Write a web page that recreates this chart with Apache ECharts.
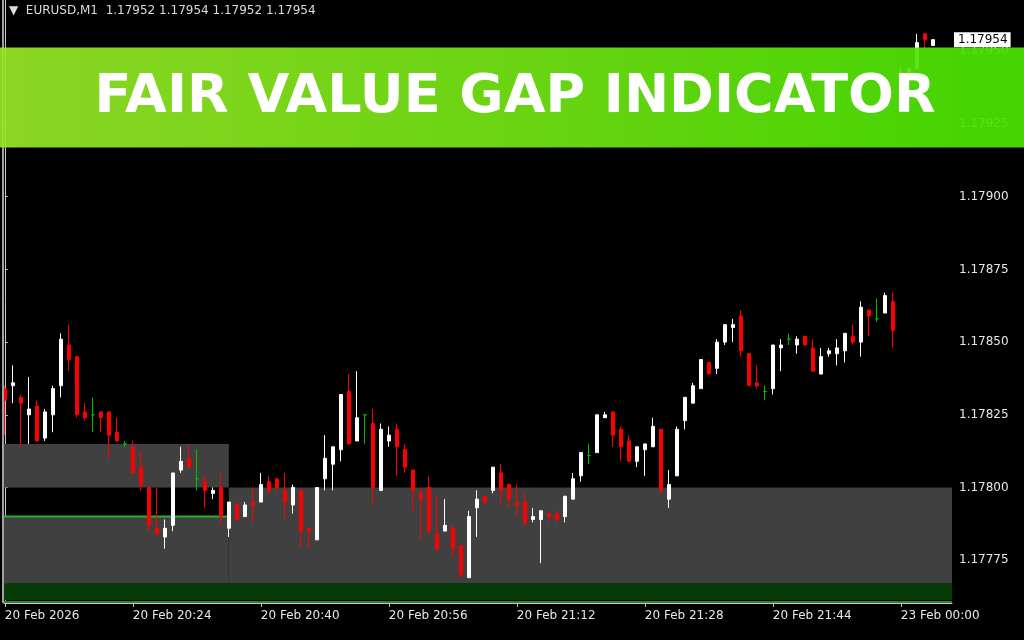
<!DOCTYPE html>
<html>
<head>
<meta charset="utf-8">
<script src="https://cdn.jsdelivr.net/npm/echarts@6/dist/echarts.min.js"></script>
<style>
html,body{margin:0;padding:0;background:#000;}
#chart{width:1024px;height:640px;}
</style>
</head>
<body>
<div id="chart"></div>
<script>
// ---- data (EURUSD M1) ----
const symbolName = 'EURUSD,M1';
const opens = [
1.17834,1.17835,1.17831,1.17825,1.17828,1.17817,1.17825,1.17835,1.17849,1.17845,
1.17826,1.17825,1.17826,1.17826,1.17819,1.17815,1.17814,1.17807,1.17800,1.17786,
1.17783,1.17787,1.17806,1.17810,1.17803,1.17802,1.17798,1.17800,1.17786,1.17794,
1.17790,1.17795,1.17795,1.17802,1.17803,1.17799,1.17794,1.17799,1.17786,1.17782,
1.17803,1.17808,1.17813,1.17833,1.17816,1.17825,1.17822,1.17799,1.17816,1.17820,
1.17813,1.17806,1.17798,1.17800,1.17784,1.17785,1.17786,1.17780,1.17769,1.17793,
1.17797,1.17799,1.17805,1.17801,1.17795,1.17795,1.17789,1.17789,1.17791,1.17791,
1.17790,1.17796,1.17804,1.17811,1.17812,1.17824,1.17826,1.17820,1.17816,1.17809,
1.17813,1.17814,1.17820,1.17796,1.17804,1.17823,1.17829,1.17834,1.17843,1.17841,
1.17850,1.17855,1.17859,1.17846,1.17836,1.17833,1.17834,1.17848,1.17851,1.17849,
1.17852,1.17848,1.17839,1.17846,1.17846,1.17847,1.17852,1.17850,1.17861,1.17858,
1.17860,1.17864,1.17937,1.17941,1.17944,1.17956,1.17952];
const highs = [
1.17835,1.17842,1.17832,1.17838,1.17830,1.17827,1.17835,1.17853,1.17856,1.17845,
1.17829,1.17831,1.17826,1.17826,1.17824,1.17816,1.17816,1.17812,1.17800,1.17800,
1.17789,1.17805,1.17814,1.17815,1.17813,1.17804,1.17800,1.17805,1.17795,1.17795,
1.17795,1.17800,1.17805,1.17804,1.17803,1.17805,1.17801,1.17799,1.17786,1.17800,
1.17818,1.17814,1.17832,1.17839,1.17840,1.17825,1.17827,1.17822,1.17821,1.17822,
1.17815,1.17806,1.17800,1.17804,1.17797,1.17796,1.17787,1.17780,1.17792,1.17799,
1.17797,1.17807,1.17808,1.17801,1.17801,1.17798,1.17793,1.17792,1.17791,1.17792,
1.17797,1.17805,1.17812,1.17815,1.17825,1.17826,1.17826,1.17821,1.17818,1.17814,
1.17815,1.17824,1.17820,1.17806,1.17821,1.17831,1.17836,1.17844,1.17843,1.17851,
1.17856,1.17858,1.17861,1.17846,1.17842,1.17835,1.17849,1.17851,1.17853,1.17852,
1.17852,1.17851,1.17848,1.17848,1.17851,1.17853,1.17856,1.17864,1.17861,1.17865,
1.17867,1.17867,1.17945,1.17944,1.17956,1.17956,1.17954];
const lows = [
1.17818,1.17829,1.17814,1.17815,1.17816,1.17816,1.17819,1.17831,1.17840,1.17824,
1.17823,1.17819,1.17819,1.17810,1.17816,1.17814,1.17805,1.17799,1.17785,1.17784,
1.17779,1.17785,1.17805,1.17807,1.17799,1.17793,1.17796,1.17787,1.17783,1.17789,
1.17790,1.17788,1.17795,1.17798,1.17799,1.17789,1.17791,1.17779,1.17779,1.17782,
1.17799,1.17799,1.17809,1.17815,1.17816,1.17815,1.17794,1.17799,1.17814,1.17804,
1.17805,1.17792,1.17782,1.17784,1.17778,1.17785,1.17776,1.17769,1.17769,1.17783,
1.17794,1.17798,1.17794,1.17793,1.17790,1.17787,1.17788,1.17774,1.17788,1.17788,
1.17788,1.17796,1.17802,1.17808,1.17812,1.17824,1.17814,1.17809,1.17809,1.17807,
1.17804,1.17814,1.17798,1.17793,1.17804,1.17820,1.17829,1.17834,1.17839,1.17839,
1.17849,1.17850,1.17845,1.17835,1.17834,1.17830,1.17832,1.17840,1.17849,1.17846,
1.17849,1.17840,1.17839,1.17845,1.17842,1.17843,1.17849,1.17845,1.17852,1.17857,
1.17860,1.17848,1.17933,1.17941,1.17944,1.17951,1.17952];
const closes = [
1.17830,1.17836,1.17829,1.17827,1.17816,1.17826,1.17834,1.17851,1.17844,1.17825,
1.17824,1.17825,1.17824,1.17818,1.17816,1.17815,1.17805,1.17801,1.17787,1.17784,
1.17786,1.17805,1.17809,1.17807,1.17803,1.17799,1.17799,1.17790,1.17795,1.17789,
1.17794,1.17794,1.17801,1.17799,1.17800,1.17795,1.17800,1.17785,1.17785,1.17800,
1.17810,1.17814,1.17832,1.17815,1.17824,1.17825,1.17800,1.17820,1.17818,1.17814,
1.17807,1.17799,1.17796,1.17785,1.17779,1.17787,1.17779,1.17770,1.17790,1.17796,
1.17795,1.17807,1.17799,1.17796,1.17794,1.17788,1.17790,1.17792,1.17790,1.17789,
1.17797,1.17803,1.17812,1.17811,1.17825,1.17825,1.17818,1.17814,1.17809,1.17814,
1.17815,1.17821,1.17799,1.17801,1.17820,1.17831,1.17835,1.17844,1.17839,1.17850,
1.17856,1.17856,1.17847,1.17835,1.17835,1.17833,1.17849,1.17849,1.17851,1.17851,
1.17849,1.17840,1.17845,1.17847,1.17848,1.17853,1.17850,1.17862,1.17859,1.17858,
1.17866,1.17854,1.17941,1.17944,1.17953,1.17954,1.17954];

// time axis labels (bar index -> label)
const tickBars = [0,16,32,48,64,80,96,112];
const tickLabels = ['20 Feb 2026','20 Feb 20:24','20 Feb 20:40','20 Feb 20:56','20 Feb 21:12','20 Feb 21:28','20 Feb 21:44','23 Feb 00:00'];
// price axis labels
const priceTicks = [1.17775,1.17800,1.17825,1.17850,1.17875,1.17900,1.17925,1.17950];

// fair value gap zones (bar index range, price range)
const zoneStart = [-2, 28, -2, -2];
const zoneEnd   = [28, 130, 28, 130];
const zoneTop   = [1.17815, 1.17800, 1.17790, 1.17767];
const zoneBottom= [1.17800, 1.17767, 1.17767, 1.177613];
const zoneColor = ['#404040','#404040','#404040','#063d06'];
// horizontal level lines
const levelStart = [-2, -2];
const levelEnd   = [28, 130];
const levelPrice = [1.17790, 1.177606];
const levelColor = ['#27b227','#1f8f1f'];

const bannerTitle = 'FAIR VALUE GAP INDICATOR';

// ---- chart ----
const candleData = opens.map((o, i) => [i, o, closes[i], lows[i], highs[i]]);
const last = opens.length - 1;
const header = symbolName + '  ' + [opens[last], highs[last], lows[last], closes[last]].map(v => v.toFixed(5)).join(' ');

const chart = echarts.init(document.getElementById('chart'), null, {renderer: 'canvas'});
const FONT = 'DejaVu Sans';

const baseGraphics = [
  {id: 'border', type: 'rect', z: 50, silent: true, shape: {x: 2, y: 0, width: 2, height: 603}, style: {fill: '#a0a0a0'}},
  {
    id: 'banner', type: 'rect', z: 100, silent: true,
    shape: {x: 0, y: 47.5, width: 1024, height: 100},
    style: {
      fill: new echarts.graphic.LinearGradient(0, 0, 1, 0, [
        {offset: 0, color: '#96e626'},
        {offset: 0.5, color: '#72e414'},
        {offset: 1, color: '#48e402'}
      ]),
      opacity: 0.93
    }
  },
  {
    id: 'bannerText', type: 'text', z: 101, silent: true,
    style: {
      x: 515, y: 98, text: bannerTitle,
      fill: '#ffffff', font: 'bold 54px "DejaVu Sans"',
      textAlign: 'center', textVerticalAlign: 'middle'
    }
  }
];

chart.setOption({
  backgroundColor: '#000000',
  animation: false,
  title: {
    text: '\u25BC  ' + header,
    left: 4, top: 0,
    textStyle: {color: '#dcdcdc', fontSize: 12, fontWeight: 'normal', fontFamily: FONT}
  },
  grid: {left: 4, right: 72, top: 0, bottom: 37},
  xAxis: {
    type: 'value',
    min: -0.1, max: 118.4,
    axisLine: {show: true, onZero: false, lineStyle: {color: '#c8c8c8', width: 1}},
    axisTick: {show: true, customValues: tickBars, length: 4, lineStyle: {color: '#c8c8c8'}},
    axisLabel: {
      customValues: tickBars,
      formatter: v => tickLabels[tickBars.indexOf(Math.round(v))] || '',
      align: 'left', color: '#e6e6e6', fontSize: 12, fontFamily: FONT, margin: 7
    },
    splitLine: {show: false}
  },
  yAxis: {
    type: 'value',
    position: 'right',
    min: 1.1776028, max: 1.1796764,
    axisLine: {show: true, lineStyle: {color: '#c8c8c8', width: 1}},
    axisTick: {show: true, customValues: priceTicks, length: 3, lineStyle: {color: '#c8c8c8'}},
    axisLabel: {
      customValues: priceTicks,
      formatter: v => v.toFixed(5),
      color: '#e6e6e6', fontSize: 12, fontFamily: FONT, margin: 7
    },
    splitLine: {show: false}
  },
  series: [
    {
      type: 'custom', name: 'zones', z: 1, silent: true, clip: true,
      data: zoneStart.map((s, k) => [s, zoneEnd[k], zoneTop[k], zoneBottom[k], k]),
      encode: {x: [0, 1], y: [2, 3]},
      renderItem: function (params, api) {
        const p0 = api.coord([api.value(0), api.value(2)]);
        const p1 = api.coord([api.value(1), api.value(3)]);
        const cs = params.coordSys;
        const shape = echarts.graphic.clipRectByRect(
          {x: p0[0], y: p0[1], width: p1[0] - p0[0], height: p1[1] - p0[1]},
          {x: cs.x, y: cs.y, width: cs.width, height: cs.height});
        return shape && {type: 'rect', shape: shape, style: {fill: zoneColor[api.value(4)]}};
      }
    },
    {
      type: 'custom', name: 'levels', z: 1.5, silent: true, clip: true,
      data: levelStart.map((s, k) => [s, levelEnd[k], levelPrice[k], k]),
      encode: {x: [0, 1], y: 2},
      renderItem: function (params, api) {
        const p0 = api.coord([api.value(0), api.value(2)]);
        const p1 = api.coord([api.value(1), api.value(2)]);
        const cs = params.coordSys;
        const x0 = Math.max(p0[0], cs.x), x1 = Math.min(p1[0], cs.x + cs.width);
        return {type: 'line', shape: {x1: x0, y1: p0[1], x2: x1, y2: p1[1]},
          style: {stroke: levelColor[api.value(3)], lineWidth: 2}};
      }
    },
    {
      type: 'candlestick', name: symbolName, z: 3, clip: true,
      barWidth: 4,
      data: candleData,
      itemStyle: {
        color: '#ffffff', color0: '#ff0000',
        borderColor: '#ffffff', borderColor0: '#ff0000',
        borderColorDoji: '#00c000', borderWidth: 1
      }
    }
  ],
  graphic: baseGraphics
});

// current price tag on the price scale, placed through the axis scale
const tagY = chart.convertToPixel({gridIndex: 0}, [0, closes[last]])[1];
const gridRight = chart.convertToPixel({gridIndex: 0}, [118.4, closes[last]])[0];
chart.setOption({
  graphic: baseGraphics.concat([
    {
      id: 'priceTag', type: 'text', z: 90, silent: true,
      style: {
        x: gridRight + 2, y: tagY, text: closes[last].toFixed(5),
        fill: '#000000', font: '12px "DejaVu Sans"',
        textAlign: 'left', textVerticalAlign: 'middle',
        backgroundColor: '#ffffff', padding: [2, 3, 1, 4]
      }
    }
  ])
});
</script>
</body>
</html>
